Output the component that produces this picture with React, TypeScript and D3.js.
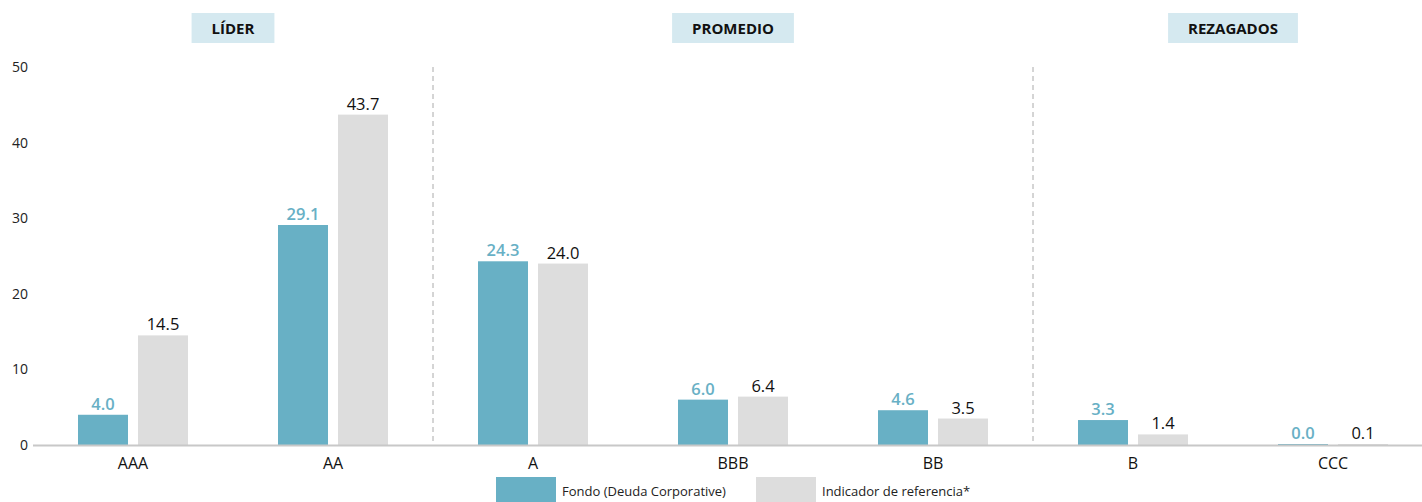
import React from "react";
import * as d3 from "d3";

const categories = ["AAA", "AA", "A", "BBB", "BB", "B", "CCC"];
const fondo = [4.0, 29.1, 24.3, 6.0, 4.6, 3.3, 0.0];
const indicador = [14.5, 43.7, 24.0, 6.4, 3.5, 1.4, 0.1];
const yTicks = [0, 10, 20, 30, 40, 50];
const groups = [
  { label: "LÍDER", from: 0, to: 1 },
  { label: "PROMEDIO", from: 2, to: 4 },
  { label: "REZAGADOS", from: 5, to: 6 },
];
const seriesNames = ["Fondo (Deuda Corporative)", "Indicador de referencia*"];

const W = 1422;
const H = 502;
const TEAL = "#68b0c5";
const GREY = "#dddddd";
const FONT = "'Open Sans', 'Noto Sans', sans-serif";

function measure(text: string, size: number, weight: number) {
  if (typeof document === "undefined") return text.length * size * 0.62;
  const c = document.createElement("canvas").getContext("2d");
  if (!c) return text.length * size * 0.62;
  c.font = `${weight} ${size}px 'Open Sans', sans-serif`;
  return c.measureText(text).width;
}

export default function App() {
  const x = d3.scaleBand<string>().domain(categories).range([33, 1433]).padding(0);
  const y = d3.scaleLinear().domain([0, 50]).range([445, 67]);
  const inner = d3.scaleBand<string>().domain(["f", "i"]).range([-55, 55]).paddingInner(1 / 6);
  const bw = inner.bandwidth();
  const center = (c: string) => (x(c) as number) + x.bandwidth() / 2;

  const seps = [1, 4].map((i) => (x(categories[i]) as number) + x.bandwidth());

  return (
    <svg width={W} height={H} style={{ display: "block", position: "absolute", left: 0, top: 0 }} fontFamily={FONT}>
      {groups.map((g) => {
        const cx = (center(categories[g.from]) + center(categories[g.to])) / 2;
        const tw = measure(g.label, 15, 700) + 40;
        return (
          <g key={g.label}>
            <rect x={cx - tw / 2} y={13} width={tw} height={30} fill="#d5e9f0" />
            <text x={cx} y={34} textAnchor="middle" fontSize={15} fontWeight={700} fill="#111">
              {g.label}
            </text>
          </g>
        );
      })}
      {yTicks.map((t) => (
        <text key={t} x={28} y={y(t) + 5} textAnchor="end" fontSize={14} fill="#222">
          {t}
        </text>
      ))}
      {seps.map((sx, i) => (
        <line key={i} x1={sx} x2={sx} y1={67} y2={445} stroke="#aaa" strokeDasharray="5,4" strokeWidth={1} />
      ))}
      {categories.map((c, i) => {
        const cx = center(c);
        const fx = cx + (inner("f") as number);
        const ix = cx + (inner("i") as number);
        const fy = y(fondo[i]);
        const iy = y(indicador[i]);
        return (
          <g key={c}>
            <rect x={fx} y={Math.min(fy, 444)} width={bw} height={Math.max(445 - fy, 1)} fill={TEAL} />
            <rect x={ix} y={Math.min(iy, 444)} width={bw} height={Math.max(445 - iy, 1)} fill={GREY} />
            <text x={fx + bw / 2} y={Math.min(fy, 444) - 5} textAnchor="middle" fontSize={16.5} fontWeight={600} fill={TEAL}>
              {fondo[i].toFixed(1)}
            </text>
            <text x={ix + bw / 2} y={Math.min(iy, 444) - 5} textAnchor="middle" fontSize={16.5} fill="#111">
              {indicador[i].toFixed(1)}
            </text>
            <text x={cx} y={469} textAnchor="middle" fontSize={16} fill="#111">
              {c}
            </text>
          </g>
        );
      })}
      <line x1={33} x2={W} y1={445.5} y2={445.5} stroke="#c8c8c8" strokeWidth={2} />
      <rect x={496} y={477} width={60} height={25} fill={TEAL} />
      <text x={562} y={496} fontSize={13} fill="#222">{seriesNames[0]}</text>
      <rect x={756} y={477} width={60} height={25} fill={GREY} />
      <text x={822} y={496} fontSize={13} fill="#222">{seriesNames[1]}</text>
    </svg>
  );
}
